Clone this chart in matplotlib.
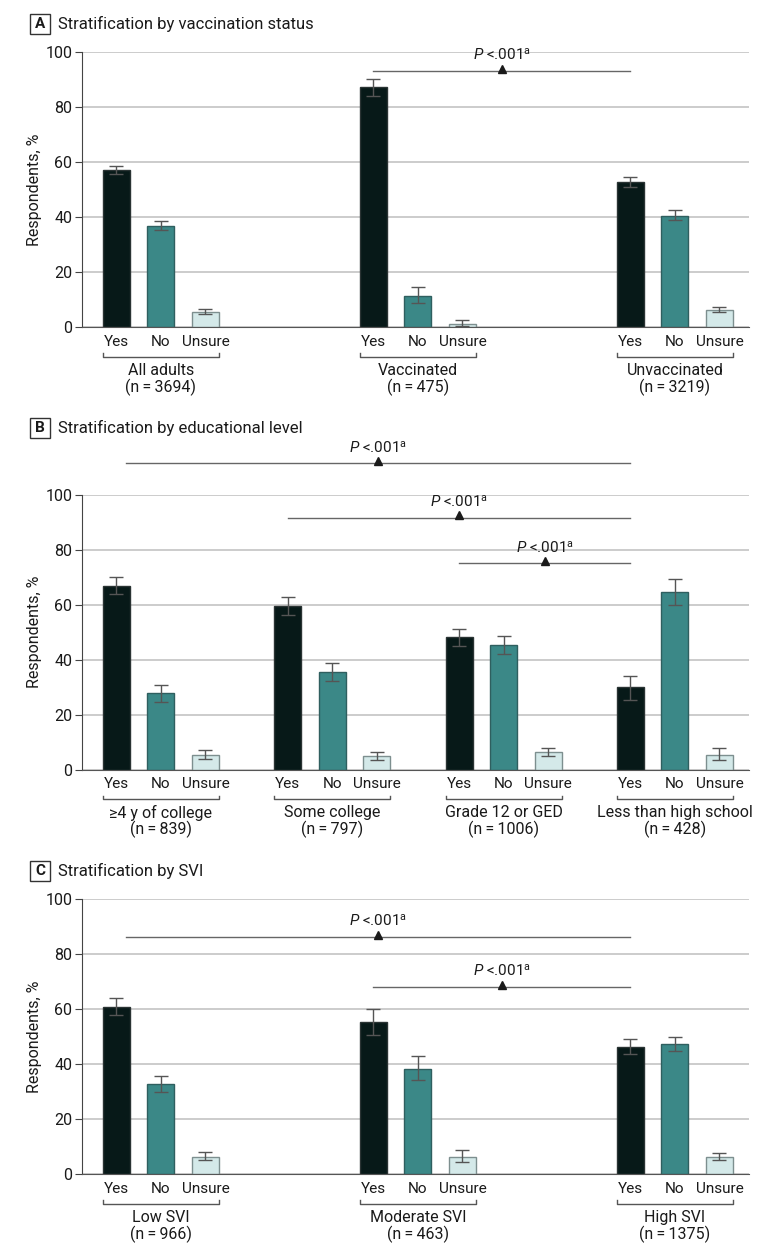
import numpy as np
import matplotlib
matplotlib.use("Agg")
import matplotlib.pyplot as plt
from matplotlib.patches import Rectangle

plt.rcParams['font.family'] = ['Roboto', 'DejaVu Sans']
plt.rcParams['mathtext.fontset'] = 'custom'
plt.rcParams['mathtext.rm'] = 'Roboto'
plt.rcParams['mathtext.it'] = 'Roboto:italic'
plt.rcParams['font.size'] = 11

# ---- data ----
answers = ['Yes', 'No', 'Unsure']

a_title = 'Stratification by vaccination status'
a_groups = ['All adults', 'Vaccinated', 'Unvaccinated']
a_n = [3694, 475, 3219]
a_vals = [[57.2, 36.7, 5.5], [87.3, 11.3, 1.2], [52.7, 40.5, 6.3]]
a_lo = [[55.6, 35.4, 4.8], [83.9, 8.6, 0.5], [50.9, 38.8, 5.3]]
a_hi = [[58.7, 38.4, 6.4], [90.1, 14.4, 2.4], [54.4, 42.4, 7.2]]
a_pvals = [(1, 2, 93.0, 0.0)]  # (from group, to group, height, start nudge)

b_title = 'Stratification by educational level'
b_groups = ['\u22654 y of college', 'Some college', 'Grade 12 or GED', 'Less than high school']
b_n = [839, 797, 1006, 428]
b_vals = [[66.9, 27.8, 5.3], [59.4, 35.6, 4.9], [48.3, 45.3, 6.3], [30.0, 64.5, 5.3]]
b_lo = [[63.8, 24.7, 3.8], [56.1, 32.4, 3.4], [44.9, 42.2, 4.9], [25.2, 59.9, 3.4]]
b_hi = [[70.2, 30.8, 7.0], [62.8, 38.9, 6.6], [51.3, 48.6, 8.0], [34.2, 69.3, 8.0]]
b_pvals = [(0, 3, 111.4, 0.22), (1, 3, 91.6, 0.0), (2, 3, 75.0, 0.0)]

c_title = 'Stratification by SVI'
c_groups = ['Low SVI', 'Moderate SVI', 'High SVI']
c_n = [966, 463, 1375]
c_vals = [[60.8, 32.6, 6.3], [55.3, 38.3, 6.3], [46.3, 47.2, 6.3]]
c_lo = [[57.7, 29.7, 5.0], [50.5, 34.1, 4.2], [43.6, 44.6, 5.1]]
c_hi = [[64.0, 35.6, 8.1], [59.9, 43.0, 8.8], [49.1, 49.9, 7.7]]
c_pvals = [(0, 2, 86.1, 0.22), (1, 2, 68.0, 0.0)]

bar_colors = ['#071918', '#3b8887', '#d4e9e9']
edge_colors = ['#2a3333', '#2f5f5f', '#7d8f8f']
grid_color = '#c4c4c4'
text_color = '#1a1a1a'

FIG_W, FIG_H = 780, 1252
fig = plt.figure(figsize=(FIG_W / 100, FIG_H / 100), dpi=100)

PX = 44.5  # pixels per bar slot
BW = 27 / PX
SPAN = 11.55


def draw_panel(letter, title, groups, ns, vals, lo, hi, pvals, top_px, title_px):
    left_px, right_px = 82, 749
    height_px = 275
    ax = fig.add_axes([left_px / FIG_W, 1 - (top_px + height_px) / FIG_H,
                       (right_px - left_px) / FIG_W, height_px / FIG_H])
    centers = np.linspace(0, SPAN, len(groups))
    ax.set_xlim((left_px - 161) / PX, (right_px - 161) / PX)
    ax.set_ylim(0, 100)

    for g, c in enumerate(centers):
        for k in range(3):
            x = c + (k - 1)
            v = vals[g][k]
            ax.bar(x, v, width=BW, color=bar_colors[k], edgecolor=edge_colors[k],
                   linewidth=1.0, zorder=3)
            ax.errorbar(x, v, yerr=[[v - lo[g][k]], [hi[g][k] - v]], fmt='none',
                        ecolor='#555555', elinewidth=1.0, capsize=5, capthick=1.0,
                        zorder=4)
            ax.text(x, -0.053, answers[k], transform=ax.get_xaxis_transform(),
                    ha='center', va='center', fontsize=11, color=text_color)
        # group bracket
        x0 = c - 1 - BW / 2
        x1 = c + 1 + BW / 2
        yb = -0.108
        ax.plot([x0, x0, x1, x1], [yb + 0.013, yb, yb, yb + 0.013], color='#555555',
                lw=1.0, transform=ax.get_xaxis_transform(), clip_on=False)
        ax.text(c, -0.157, groups[g], transform=ax.get_xaxis_transform(),
                ha='center', va='center', fontsize=11.5, color=text_color)
        ax.text(c, -0.218, '(n\u2009=\u2009%d)' % ns[g], transform=ax.get_xaxis_transform(),
                ha='center', va='center', fontsize=11.5, color=text_color)

    # p-value brackets
    for g0, g1, h, nudge in pvals:
        xa = centers[g0] - 1 + nudge
        xb = centers[g1] - 1
        ax.plot([xa, xb], [h, h], color='#666666', lw=1.0, clip_on=False, zorder=5)
        xm = (xa + xb) / 2
        ax.plot([xm], [h + 0.9], marker='^', ms=5.5, color='#1a1a1a', clip_on=False,
                zorder=6)
        ax.text(xm, h + 5.9, r'$\it{P}$ <.001$^{\rm a}$', ha='center', va='center',
                fontsize=11, color=text_color, clip_on=False)

    ax.set_yticks([0, 20, 40, 60, 80, 100])
    ax.yaxis.grid(True, color=grid_color, lw=1.2, zorder=0)
    ax.set_axisbelow(True)
    ax.set_xticks([])
    for s in ['top', 'right']:
        ax.spines[s].set_visible(False)
    ax.spines['left'].set_color('#444444')
    ax.spines['bottom'].set_color('#555555')
    ax.spines['bottom'].set_zorder(5)
    ax.tick_params(axis='y', length=5, color='#444444', labelsize=11.5,
                   labelcolor=text_color, pad=2)
    ax.set_ylabel('Respondents, %', fontsize=11.5, color=text_color, labelpad=2)

    # panel title with boxed letter
    fig.patches.append(Rectangle((30 / FIG_W, 1 - (title_px + 10) / FIG_H),
                                 20 / FIG_W, 20 / FIG_H, transform=fig.transFigure,
                                 fill=False, edgecolor='#333333', lw=1.0))
    fig.text(40 / FIG_W, 1 - title_px / FIG_H, letter, ha='center', va='center',
             fontsize=11, fontweight='bold', color=text_color)
    fig.text(58 / FIG_W, 1 - title_px / FIG_H, title, ha='left', va='center',
             fontsize=12, color=text_color)
    return ax


draw_panel('A', a_title, a_groups, a_n, a_vals, a_lo, a_hi, a_pvals, 52, 24)
draw_panel('B', b_title, b_groups, b_n, b_vals, b_lo, b_hi, b_pvals, 494.7, 428)
draw_panel('C', c_title, c_groups, c_n, c_vals, c_lo, c_hi, c_pvals, 899, 870.7)

fig.savefig('out.png', dpi=100)
